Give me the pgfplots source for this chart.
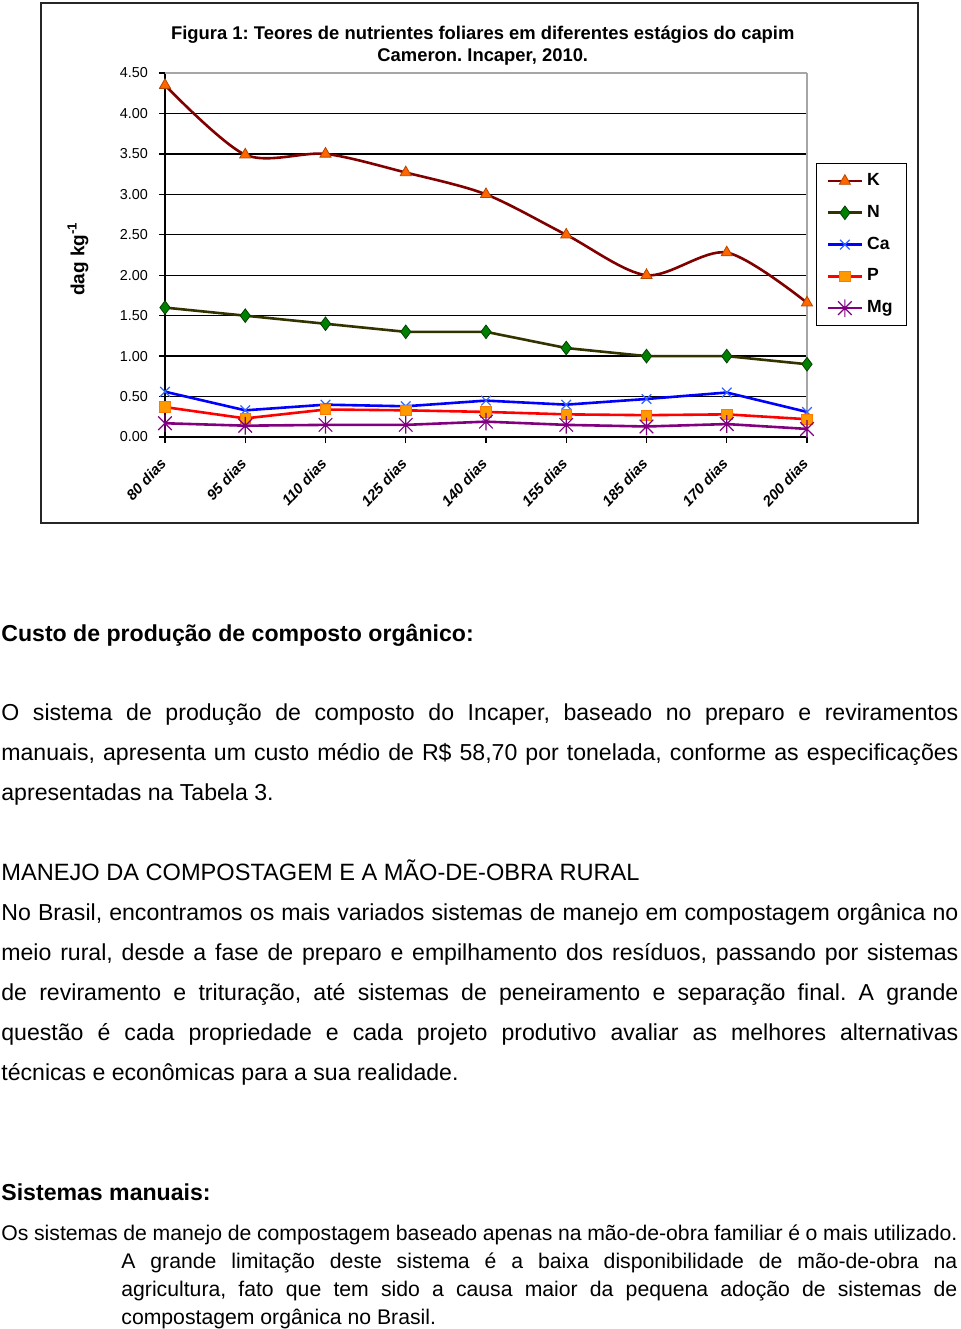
\documentclass[border=0pt]{standalone}
\usepackage{fontspec}
\setmainfont{Liberation Sans}
\usepackage{pgfplots}
\pgfplotsset{compat=1.18}
\frenchspacing

\definecolor{kline}{RGB}{128,0,0}
\definecolor{kmark}{RGB}{255,102,0}
\definecolor{nline}{RGB}{51,51,0}
\definecolor{nmark}{RGB}{0,128,0}
\definecolor{caline}{RGB}{0,0,255}
\definecolor{camark}{RGB}{51,102,255}
\definecolor{pline}{RGB}{255,0,0}
\definecolor{pmark}{RGB}{255,153,0}
\definecolor{mgline}{RGB}{128,0,128}

% Excel "star" marker: an x with a vertical stroke
\pgfdeclareplotmark{xstar}{%
  \pgfpathmoveto{\pgfqpoint{-\pgfplotmarksize}{-\pgfplotmarksize}}%
  \pgfpathlineto{\pgfqpoint{\pgfplotmarksize}{\pgfplotmarksize}}%
  \pgfpathmoveto{\pgfqpoint{-\pgfplotmarksize}{\pgfplotmarksize}}%
  \pgfpathlineto{\pgfqpoint{\pgfplotmarksize}{-\pgfplotmarksize}}%
  \pgfpathmoveto{\pgfqpoint{0pt}{-1.3\pgfplotmarksize}}%
  \pgfpathlineto{\pgfqpoint{0pt}{1.3\pgfplotmarksize}}%
  \pgfusepathqstroke}

\newcommand{\bodyfont}{\fontsize{11.55}{13}\selectfont}
\newcommand{\smallfont}{\fontsize{10.6}{12}\selectfont}

\begin{document}
\begin{tikzpicture}
\begin{scope}[x=0.5pt,y=-0.5pt]
  \path (0,0) rectangle (960,1329);
  \draw[line width=1pt, black!85] (41,3) rectangle (918,523);

  \node[anchor=base west, inner sep=0, font=\bodyfont\bfseries] at (1,641) {Custo de produção de composto orgânico:};
  \node[anchor=base west, inner sep=0, font=\bodyfont] at (1,720) {\makebox[478.5pt][s]{O sistema de produção de composto do Incaper, baseado no preparo e reviramentos}};
  \node[anchor=base west, inner sep=0, font=\bodyfont] at (1,760) {\makebox[478.5pt][s]{manuais, apresenta um custo médio de R\$ 58,70 por tonelada, conforme as especificações}};
  \node[anchor=base west, inner sep=0, font=\bodyfont] at (1,800) {apresentadas na Tabela 3.};

  \node[anchor=base west, inner sep=0, font=\fontsize{11.8}{13}\selectfont] at (1,880) {MANEJO DA COMPOSTAGEM E A MÃO-DE-OBRA RURAL};
  \node[anchor=base west, inner sep=0, font=\bodyfont] at (1,920) {\makebox[478.5pt][s]{No Brasil, encontramos os mais variados sistemas de manejo em compostagem orgânica no}};
  \node[anchor=base west, inner sep=0, font=\bodyfont] at (1,960) {\makebox[478.5pt][s]{meio rural, desde a fase de preparo e empilhamento dos resíduos, passando por sistemas}};
  \node[anchor=base west, inner sep=0, font=\bodyfont] at (1,1000) {\makebox[478.5pt][s]{de reviramento e trituração, até sistemas de peneiramento e separação final. A grande}};
  \node[anchor=base west, inner sep=0, font=\bodyfont] at (1,1040) {\makebox[478.5pt][s]{questão é cada propriedade e cada projeto produtivo avaliar as melhores alternativas}};
  \node[anchor=base west, inner sep=0, font=\bodyfont] at (1,1080) {técnicas e econômicas para a sua realidade.};

  \node[anchor=base west, inner sep=0, font=\bodyfont\bfseries] at (1,1200) {Sistemas manuais:};
  \node[anchor=base west, inner sep=0, font=\smallfont] at (1,1240) {\makebox[478pt][s]{Os sistemas de manejo de compostagem baseado apenas na mão-de-obra familiar é o mais utilizado.}};
  \node[anchor=base west, inner sep=0, font=\smallfont] at (121,1268) {\makebox[418pt][s]{A grande limitação deste sistema é a baixa disponibilidade de mão-de-obra na}};
  \node[anchor=base west, inner sep=0, font=\smallfont] at (121,1296) {\makebox[418pt][s]{agricultura, fato que tem sido a causa maior da pequena adoção de sistemas de}};
  \node[anchor=base west, inner sep=0, font=\smallfont] at (121,1324) {compostagem orgânica no Brasil.};
\end{scope}

\begin{axis}[
  at={(82.5pt,-218.5pt)}, anchor=south west,
  scale only axis, width=321pt, height=182pt,
  xmin=0, xmax=8, ymin=0, ymax=4.5,
  clip=false,
  axis lines=left, axis line style={-, black, line width=0.7pt},
  tick align=outside, major tick length=3pt,
  tick style={black, line width=0.7pt},
  xtick={0,...,8},
  xticklabels={80 dias,95 dias,110 dias,125 dias,140 dias,155 dias,185 dias,170 dias,200 dias},
  xticklabel style={xshift=1.5pt, yshift=-6.5pt, rotate=47, anchor=east,
    font=\fontsize{7.4}{8}\selectfont\bfseries\itshape},
  ytick={0,0.5,...,4.5},
  yticklabel style={font=\fontsize{7.2}{8}\selectfont, xshift=-2pt},
  /pgf/number format/.cd, fixed, fixed zerofill, precision=2, assume math mode=true,
  /pgfplots/.cd,
  ymajorgrids, major grid style={black, line width=0.7pt},
  ylabel={dag kg\textsuperscript{-1}},
  ylabel style={at={(axis description cs:-0.1355,0.49)}, anchor=center,
    font=\fontsize{9.5}{11}\selectfont\bfseries},
  title={Figura 1: Teores de nutrientes foliares em diferentes estágios do capim\\Cameron. Incaper, 2010.},
  title style={at={(axis description cs:0.495,1.042)}, anchor=center, align=center,
    font=\fontsize{9.2}{11}\selectfont\bfseries},
  legend style={at={(axis description cs:1.014,0.753)}, anchor=north west,
    draw=black, line width=0.6pt, font=\fontsize{8.8}{10}\selectfont\bfseries,
    row sep=4.3pt, inner xsep=5pt, inner ysep=3pt},
  legend cell align=left,
  legend image code/.code={%
    \draw[mark repeat=2, mark phase=2] plot coordinates {(0pt,0pt) (8.5pt,0pt) (17pt,0pt)};},
]
\draw[gray!70, line width=0.7pt] (rel axis cs:0,1) -- (rel axis cs:1,1);
\draw[gray!70, line width=0.7pt] (rel axis cs:1,0) -- (rel axis cs:1,1);

\addplot[kline, line width=1.3pt, smooth, mark=triangle*, mark size=3.2pt,
  mark options={fill=kmark, draw=kmark!70!black, line width=0.4pt}]
  coordinates {(0,4.35) (1,3.49) (2,3.50) (3,3.27) (4,3.00) (5,2.50) (6,2.00) (7,2.28) (8,1.66)};
\addlegendentry{K}
\addplot[nline, line width=1.3pt, mark=diamond*, mark size=3.4pt,
  mark options={fill=nmark, draw=nmark!50!black, line width=0.4pt}]
  coordinates {(0,1.60) (1,1.50) (2,1.40) (3,1.30) (4,1.30) (5,1.10) (6,1.00) (7,1.00) (8,0.90)};
\addlegendentry{N}
\addplot[caline, line width=1.3pt, mark=x, mark size=3.4pt,
  mark options={draw=camark, line width=0.6pt}]
  coordinates {(0,0.56) (1,0.33) (2,0.40) (3,0.38) (4,0.45) (5,0.40) (6,0.47) (7,0.55) (8,0.31)};
\addlegendentry{Ca}
\addplot[pline, line width=1.3pt, mark=square*, mark size=2.6pt,
  mark options={fill=pmark, draw=pmark!80!red, line width=0.4pt}]
  coordinates {(0,0.37) (1,0.23) (2,0.34) (3,0.33) (4,0.31) (5,0.28) (6,0.27) (7,0.28) (8,0.22)};
\addlegendentry{P}
\addplot[mgline, line width=1.3pt, mark=xstar, mark size=3.4pt,
  mark options={draw=mgline, line width=0.6pt}]
  coordinates {(0,0.17) (1,0.14) (2,0.15) (3,0.15) (4,0.19) (5,0.15) (6,0.13) (7,0.16) (8,0.10)};
\addlegendentry{Mg}
\end{axis}
\end{tikzpicture}
\end{document}
